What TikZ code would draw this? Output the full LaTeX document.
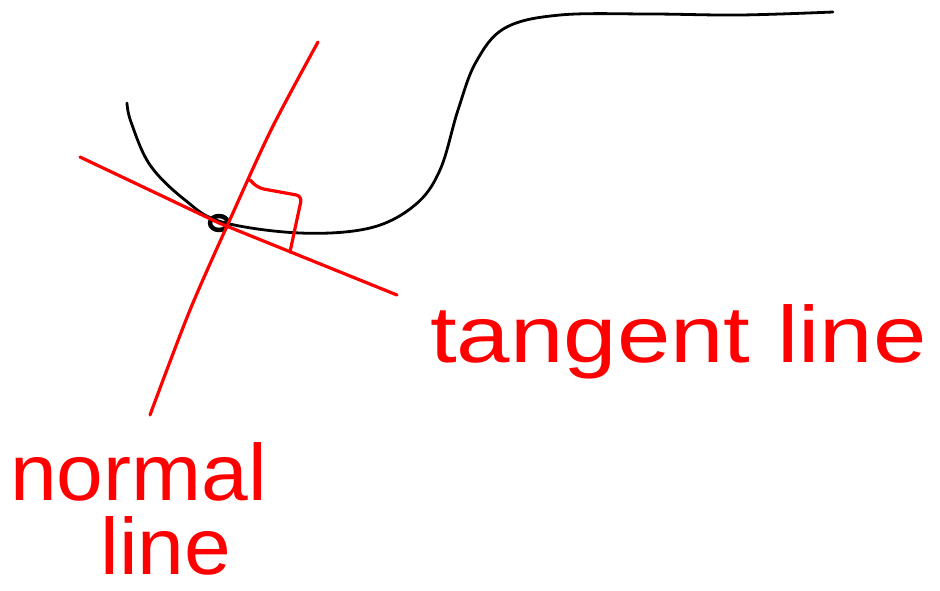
\documentclass[tikz,border=0pt]{standalone}
\usepackage{fontspec}
\setmainfont{Liberation Sans}
\usetikzlibrary{positioning}

\tikzset{
  curveline/.style={line width=2.8pt, black, line cap=round, line join=round},
  redline/.style={line width=3.2pt, red, line cap=round, line join=round},
  handtext/.style={red, inner sep=0pt, font=\fontsize{80}{74}\selectfont},
}

\begin{document}
\begin{tikzpicture}[x=1pt, y=-1pt]
    \useasboundingbox (0,0) rectangle (940,590);
    % the curve
    \draw[curveline] plot[smooth, tension=0.6] coordinates {
      (127,103) (131,122) (150,165) (185,200) (222,222) (300,233)
      (370,228) (415,205) (440,170) (458,110) (476,62) (505,28)
      (560,15) (650,14) (740,15) (833,12)};
    \coordinate (P) at (219,223);
    \draw[curveline, line width=4.5pt] (P) ellipse [x radius=9, y radius=7];
    % tangent and normal
    \coordinate (t1) at (80,157);
    \coordinate (t2) at (397,295);
    \coordinate (n1) at (318,42);
    \coordinate (n2) at (150,415);
    \draw[redline] (t1) -- (P) -- (t2);
    \draw[redline] plot[smooth, tension=0.5] coordinates {(n1) (272,128) (232,215) (190,310) (n2)};
    % right angle mark
    \coordinate (r1) at (250,180);
    \coordinate (r2) at (302,196);
    \coordinate (r3) at (290,252);
    \draw[redline, rounded corners=6pt] (r1) -- (258,188) -- (r2) -- (r3);
    % labels
    \node[handtext, anchor=base west, xscale=1.2] (tangent) at (430,362) {tangent line};
    \node[handtext, anchor=base west, align=left, xscale=1.05] (normal) at (10,574) {normal\\\hspace*{86pt}line};
\end{tikzpicture}
\end{document}
